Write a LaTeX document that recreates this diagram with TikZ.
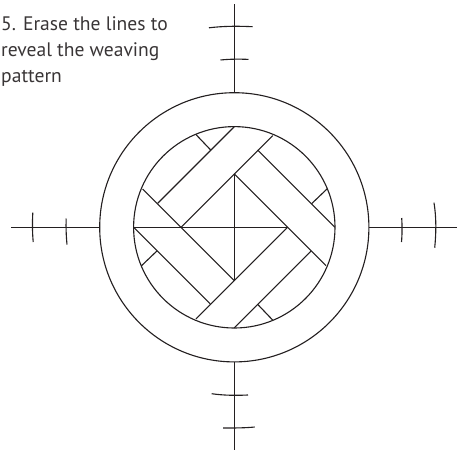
\documentclass[tikz,border=0pt]{standalone}
\usepackage{fontspec}
\setmainfont{PT Sans}
\definecolor{WeaveInk}{RGB}{35,31,32}
\begin{document}
\begin{tikzpicture}[x=0.3mm, y=-0.3mm,
        weave/.style={draw=WeaveInk, line width=0.95pt},
        spoke/.style={draw=WeaveInk, line width=0.95pt},
        caption/.style={anchor=base west, align=left, inner sep=0pt, text=WeaveInk!90,
                        font=\fontsize{16.7}{22}\selectfont}
      ]
        \useasboundingbox (0,0) rectangle (466,454);
        \node[caption] (steptext) at (1,82) {5. Erase the lines to\\ reveal the weaving\\ pattern};

        \coordinate (hub) at (234.3,227.3);
        \draw[weave] (hub) circle[radius=134.6];
        \draw[weave] (hub) circle[radius=100.7];

        % inner diamond and cross
        \draw[weave] (133.7,227.3) -- (287.6,227.3);
        \draw[weave] (234.3,174) -- (234.3,280.6);

        % long strips
        \draw[weave] (234.3,126.7) -- (157.7,203.3);
        \draw[weave] (334.9,227.3) -- (257.7,150);
        \draw[weave] (234.3,327.9) -- (310.9,251.3);
        \draw[weave] (133.7,227.3) -- (210.3,303.9);
        \draw[weave] (272.7,135.6) -- (181,227.3);
        \draw[weave] (326,265.7) -- (234.3,174);
        \draw[weave] (195.9,319) -- (287.6,227.3);
        \draw[weave] (142.6,188.9) -- (234.3,280.6);

        % short stubs
        \draw[weave] (195.7,134.3) -- (210.7,150);
        \draw[weave] (327.3,188.7) -- (311.6,203.7);
        \draw[weave] (272.9,320.3) -- (257.9,304.6);
        \draw[weave] (141.3,265.9) -- (157,250.9);

        % spokes
        \draw[spoke] (234.3,4) -- (234.3,92.7);
        \draw[spoke] (234.3,362) -- (234.3,450);
        \draw[spoke] (11,227.3) -- (99.7,227.3);
        \draw[spoke] (368.9,227.3) -- (457.3,227.3);

        % ticks
        \draw[spoke] (209,27.8) .. controls (224,26) and (238,26) .. (252.5,26.7);
        \draw[spoke] (220.5,60) .. controls (230,59) and (240,59) .. (248.5,59.4);
        \draw[spoke] (211.7,393.7) .. controls (224,395.5) and (236,395.5) .. (248,395);
        \draw[spoke] (223,428) .. controls (234,428) and (245,428) .. (254.7,427);
        \draw[spoke] (32.8,212.7) .. controls (32.3,222) and (32.3,232) .. (33.2,242);
        \draw[spoke] (66.2,218.5) .. controls (65.8,227) and (66.2,236) .. (67,244.5);
        \draw[spoke] (401.7,218) .. controls (402.2,226) and (402.2,234) .. (401.5,242);
        \draw[spoke] (434,202.7) .. controls (436.3,217) and (436.3,232) .. (434.7,247.7);
      \end{tikzpicture}
\end{document}
